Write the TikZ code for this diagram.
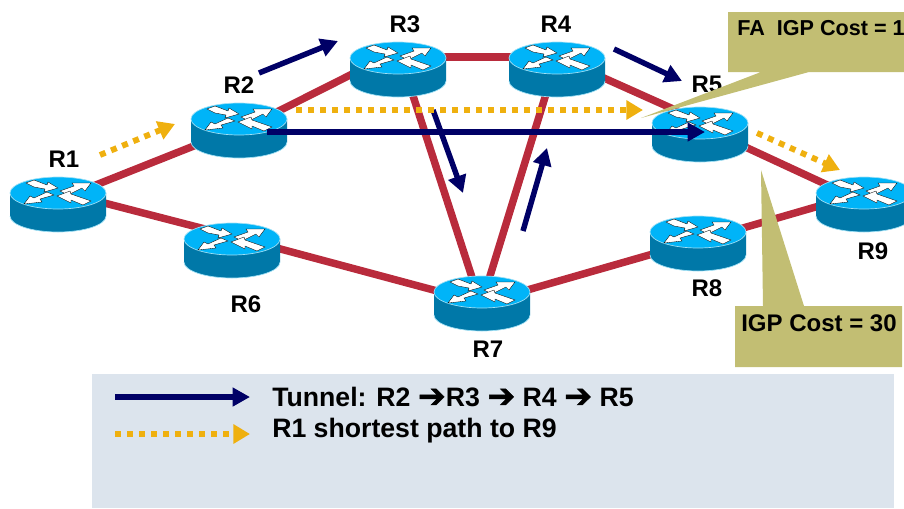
\documentclass[tikz,border=0pt]{standalone}
\usepackage{fontspec}
\setmainfont{Liberation Sans}
\newfontfamily\arrowfont[FakeBold=1.5]{DejaVu Sans}
\usetikzlibrary{arrows.meta,calc}
\definecolor{linkred}{HTML}{B92B3C}
\definecolor{navyc}{HTML}{000066}
\definecolor{goldc}{HTML}{EFB00F}
\definecolor{olivec}{HTML}{C2BE73}
\definecolor{legendc}{HTML}{DCE4ED}
\definecolor{topc}{HTML}{00B4F8}
\definecolor{sidec}{HTML}{0078A8}
\definecolor{rimc}{HTML}{9FE0F5}
\tikzset{
  x=0.75pt,y=-0.75pt,
  anchorpt/.style={inner sep=0pt,minimum size=0pt,outer sep=0pt},
  link/.style={draw=linkred,line width=5.6pt},
  tunnel/.style={draw=navyc,line width=4.1pt,-{Triangle[length=13pt,width=13.5pt]}},
  sp/.style={draw=goldc,line width=4.4pt,dash pattern=on 4.5pt off 4.5pt,-{Triangle[length=12.5pt,width=14pt]}},
  lbl/.style={font=\fontsize{18pt}{21pt}\bfseries,inner sep=0pt,anchor=center},
  call/.style={fill=olivec,draw=none},
  wa/.style={fill=white,draw=black,line width=0.25pt},
}
\newcommand{\router}[3]{%
  \begin{scope}[shift={(#2,#3)}]
    \fill[sidec] (-48,0) -- (-48,23) arc[start angle=180,end angle=0,x radius=48,y radius=16] -- (48,0) -- cycle;
    \draw[rimc,line width=0.5pt] (-48,23) arc[start angle=180,end angle=0,x radius=48,y radius=16];
    \draw[fill=topc,draw=rimc,line width=0.5pt] (0,0) ellipse[x radius=48,y radius=16];
    \fill[wa] (-32,-10) -- (-24,-13) -- (-11,-8) -- (-10,-11) -- (0,-5) -- (-14,-1) -- (-13,-4) -- (-24,-6) -- cycle;
    \fill[wa] (2,-2) -- (16,-7) -- (14,-10) -- (33,-10) -- (27,-2) -- (24,-5) -- (10,2) -- cycle;
    \fill[wa] (-4,2) -- (-18,6) -- (-16,9) -- (-34,11) -- (-28,3) -- (-24,5) -- (-11,-1) -- cycle;
    \fill[wa] (33,8) -- (25,12) -- (13,7) -- (13,10) -- (-1,3) -- (12,-2) -- (13,1) -- cycle;
  \end{scope}%
  \node[anchorpt] (#1) at (#2,#3+10) {};%
}
\newcommand{\arw}{{\arrowfont\fontsize{25pt}{22pt}\selectfont\raisebox{-1pt}{\symbol{"2794}}}}
\begin{document}
\begin{tikzpicture}
\useasboundingbox (0,0) rectangle (904,508);
\fill[legendc] (92,374) rectangle (894,508);
\node[anchorpt] (a1) at (58,200) {};
\node[anchorpt] (a1b) at (58,191) {};
\node[anchorpt] (a2) at (239,128) {};
\node[anchorpt] (a2b) at (239,131) {};
\node[anchorpt] (a3) at (398,51) {};
\node[anchorpt] (a3b) at (404,68) {};
\node[anchorpt] (a3c) at (398,57) {};
\node[anchorpt] (a4) at (557,57) {};
\node[anchorpt] (a4b) at (554,68) {};
\node[anchorpt] (a5) at (700,126) {};
\node[anchorpt] (a5b) at (700,121) {};
\node[anchorpt] (a6) at (232,236) {};
\node[anchorpt] (a7) at (482,303) {};
\node[anchorpt] (a7b) at (480,302) {};
\node[anchorpt] (a7c) at (482,302) {};
\node[anchorpt] (a8) at (698,241) {};
\node[anchorpt] (a9) at (864,202) {};
\node[anchorpt] (a9b) at (864,193) {};
\draw[link] (a1)--(a2);
\draw[link] (a2b)--(a3);
\draw[link] (a3c)--(a4);
\draw[link] (a4)--(a5b);
\draw[link] (a5)--(a9);
\draw[link] (a1b)--(a6);
\draw[link] (a6)--(a7);
\draw[link] (a7)--(a8);
\draw[link] (a8)--(a9b);
\draw[link] (a3b)--(a7b);
\draw[link] (a4b)--(a7c);
\router{r1}{58}{193}
\router{r2}{239}{119}
\router{r3}{398}{58}
\router{r4}{557}{58}
\router{r5}{700}{123}
\router{r6}{232}{239}
\router{r7}{482}{292}
\router{r8}{698}{232}
\router{r9}{864}{193}
\node[lbl] (l1) at (64,159) {R1};
\node[lbl] (l2) at (239,85) {R2};
\node[lbl] (l3) at (405,24) {R3};
\node[lbl] (l4) at (556,24) {R4};
\node[lbl] (l5) at (707,84) {R5};
\node[lbl] (l6) at (246,304) {R6};
\node[lbl] (l7) at (488,349) {R7};
\node[lbl] (l8) at (707,288) {R8};
\node[lbl] (l9) at (873,251) {R9};
\coordinate (t1a) at (259,73); \coordinate (t1b) at (338,41);
\coordinate (t2a) at (614,49); \coordinate (t2b) at (682,81);
\coordinate (t3a) at (433,110); \coordinate (t3b) at (463,193);
\coordinate (t4a) at (523,231); \coordinate (t4b) at (547,148);
\coordinate (t5a) at (267,132); \coordinate (t5b) at (705,132);
\draw[tunnel] (t1a)--(t1b);
\draw[tunnel] (t2a)--(t2b);
\draw[tunnel] (t3a)--(t3b);
\draw[tunnel] (t4a)--(t4b);
\coordinate (s1a) at (100,155); \coordinate (s1b) at (175,124);
\coordinate (s2a) at (296,110); \coordinate (s2b) at (643,110);
\coordinate (s3a) at (757,133); \coordinate (s3b) at (840,170);
\draw[sp] (s1a)--(s1b);
\draw[sp] (s2a)--(s2b);
\draw[sp] (s3a)--(s3b);
\draw[tunnel] (t5a)--(t5b);
\fill[call] (728,12) -- (904,12) -- (904,72) -- (809,72) -- (641,118) -- (761,72) -- (728,72) -- cycle;
\node[font=\fontsize{16.2pt}{19pt}\bfseries,anchor=west,inner sep=0pt] (c1) at (737,28) {FA\ \ IGP Cost = 10};
\fill[call] (735,306) -- (763,306) -- (761,170) -- (804,306) -- (902,306) -- (902,367) -- (735,367) -- cycle;
\node[font=\fontsize{18pt}{21pt}\bfseries,anchor=west,inner sep=0pt] (c2) at (741,323) {IGP Cost = 30};
\coordinate (k1a) at (115,397); \coordinate (k1b) at (250,397);
\coordinate (k2a) at (115,434); \coordinate (k2b) at (250,434);
\draw[tunnel] (k1a)--(k1b);
\draw[sp] (k2a)--(k2b);
\node[font=\fontsize{20pt}{22pt}\bfseries,anchor=west,inner sep=0pt] (t1) at (272,397) {Tunnel: R2 \arw R3 \arw\ R4 \arw\ R5};
\node[font=\fontsize{20pt}{22pt}\bfseries,anchor=west,inner sep=0pt] (t2) at (272,431) {R1 shortest path to R9};
\end{tikzpicture}
\end{document}
